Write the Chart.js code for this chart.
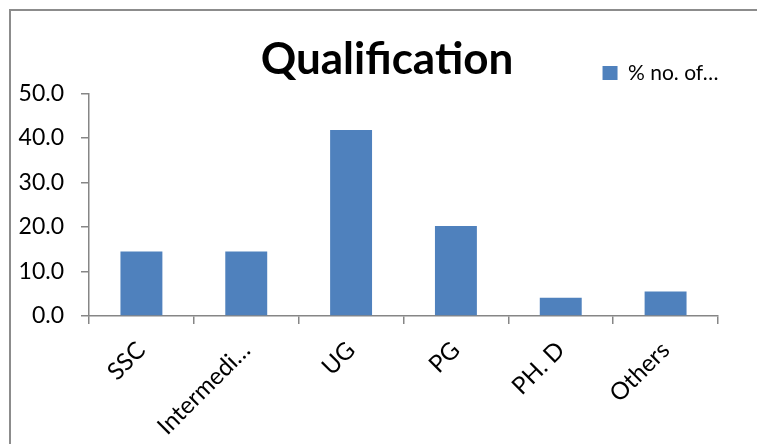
<!DOCTYPE html>
<html>
<head>
<meta charset="utf-8">
<title>Qualification</title>
<script src="https://cdn.jsdelivr.net/npm/chart.js@4.4.1/dist/chart.umd.min.js"></script>
<style>
  html, body { margin: 0; padding: 0; background: #fff; overflow: hidden; width: 757px; height: 444px; }
  .frame {
    position: absolute;
    left: 9px;
    top: 9px;
    right: 0;
    bottom: 0;
    border-left: 2px solid #8c8c8c;
    border-top: 2px solid #8c8c8c;
  }
  .wrap {
    position: absolute;
    left: 0;
    top: 0;
    width: 757px;
    height: 444px;
  }
</style>
</head>
<body>
<div class="frame"></div>
<div class="wrap"><canvas id="chart"></canvas></div>
<script>
const categories = ["SSC", "Intermedi…", "UG", "PG", "PH. D", "Others"]
const shares = [14.5, 14.5, 41.8, 20.2, 4.1, 5.5]
const seriesName = "% no. of…"
const yTickLabels = ["0.0", "10.0", "20.0", "30.0", "40.0", "50.0"]

const axisGrey = "#868686"

Chart.defaults.font.family = "Lato, 'Open Sans', sans-serif"
Chart.defaults.color = "#000"

// title is centred on the framed box, legend sits in the title row
const placeHeader = {
  id: "placeHeader",
  afterLayout(chart) {
    chart.titleBlock.left += 28
    chart.titleBlock.right += 28
    chart.legend.left += 15
    chart.legend.right += 15
  },
}

new Chart(document.getElementById("chart"), {
  type: "bar",
  data: {
    labels: categories,
    datasets: [
      {
        label: seriesName,
        data: shares,
        backgroundColor: "#4f81bd",
        borderWidth: 0,
        categoryPercentage: 1,
        barPercentage: 0.4,
      },
    ],
  },
  options: {
    responsive: true,
    maintainAspectRatio: false,
    animation: false,
    layout: {
      padding: { top: 0, right: 39, bottom: 0, left: 0 },
    },
    scales: {
      y: {
        min: 0,
        max: 50,
        afterFit: (scale) => { scale.width = 89 },
        border: { display: true, color: axisGrey, width: 1.5 },
        grid: {
          drawOnChartArea: false,
          drawTicks: true,
          tickLength: 8,
          color: axisGrey,
          lineWidth: 1.5,
        },
        ticks: {
          stepSize: 10,
          padding: 17,
          font: { size: 23 },
          callback: (value, index) => yTickLabels[index],
        },
      },
      x: {
        afterFit: (scale) => { scale.height = 128 },
        border: { display: true, color: axisGrey, width: 1.5 },
        grid: {
          offset: true,
          drawOnChartArea: false,
          drawTicks: true,
          tickLength: 8,
          color: axisGrey,
          lineWidth: 1.5,
        },
        ticks: {
          minRotation: 45,
          maxRotation: 45,
          autoSkip: false,
          padding: 12,
          font: { size: 24 },
        },
      },
    },
    plugins: {
      title: {
        display: true,
        text: "Qualification",
        font: { size: 44, weight: "bold", lineHeight: 1 },
        padding: { top: 38, bottom: -34 },
      },
      legend: {
        display: true,
        position: "top",
        align: "end",
        labels: {
          boxWidth: 15,
          boxHeight: 14,
          padding: 14.5,
          font: { size: 21 },
        },
      },
      tooltip: { enabled: false },
    },
  },
  plugins: [placeHeader],
})
</script>
</body>
</html>
